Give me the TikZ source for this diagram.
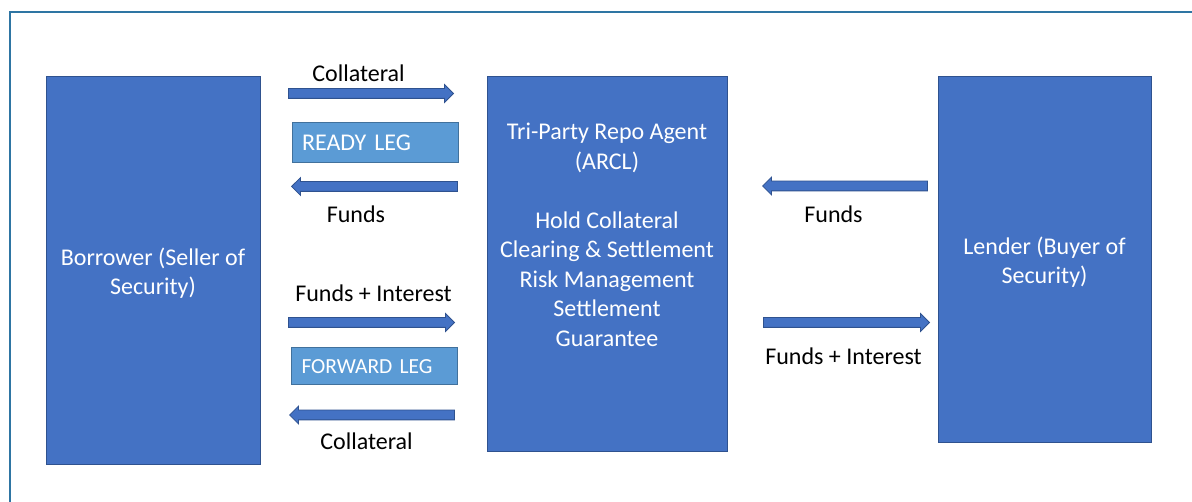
\documentclass[tikz,border=0pt]{standalone}
\usepackage{fontspec}
\setmainfont{Carlito}
\usetikzlibrary{shapes.arrows}

\definecolor{boxfill}{HTML}{4472C4}
\definecolor{boxline}{HTML}{2F528F}
\definecolor{legfill}{HTML}{5B9BD5}
\definecolor{legline}{HTML}{41719C}
\definecolor{framecol}{HTML}{2E75A3}

\begin{document}
\begin{tikzpicture}[x=1pt,y=-1pt,
  bigtext/.style={font=\fontsize{24}{29.5}\selectfont},
  party/.style={rectangle, draw=boxline, fill=boxfill, line width=1pt,
    text=white, align=center, inner sep=0pt, text depth=0pt, bigtext},
  leg/.style={rectangle, draw=legline, fill=legfill, line width=1pt,
    text=white, inner xsep=10pt, inner ysep=0pt, text width=146pt,
    align=left},
  flow/.style={single arrow, draw=boxline, fill=boxfill, line width=0.8pt,
    inner xsep=0pt, inner ysep=4.5pt, minimum width=17pt,
    single arrow head extend=4pt, single arrow tip angle=90,
    single arrow head indent=0pt, anchor=tip},
  back/.style={flow, shape border rotate=180},
  caption/.style={anchor=base, inner sep=0pt, text=black, bigtext}
]
\useasboundingbox (0,0) rectangle (1192,502);
\clip (0,0) rectangle (1192,502);
\fill[white] (0,0) rectangle (1192,502);

% outer frame
\draw[framecol, line width=2pt] (10,12) rectangle (1240,560);

% the three parties
\node[party, minimum width=214pt, minimum height=388pt] (borrower) at (153,271)
  {Borrower (Seller of\\Security)};
\node[party, minimum width=240pt, minimum height=375pt] (agent) at (607,264.5) {};
\node[anchor=north, inner sep=0pt, text=white, align=center, bigtext] (agenttext)
  at (607,123) {Tri-Party Repo Agent\\(ARCL)\\[29.5pt]Hold Collateral\\Clearing \& Settlement\\Risk Management\\Settlement\\Guarantee};
\node[party, minimum width=213pt, minimum height=366pt] (lender) at (1044.5,260)
  {Lender (Buyer of\\Security)};

% ready leg (arrows placed by their tips)
\node[flow, minimum height=165pt] (coll1) at (454,93.5) {};
\node[caption] (coll1lbl) at (358.5,82) {Collateral};
\node[leg, minimum height=40pt, font=\fontsize{24}{29.5}\selectfont] (ready) at (375,143) {READY LEG};
\node[back, minimum height=166pt] (funds1) at (291,186.5) {};
\node[caption] (funds1lbl) at (356,222.7) {Funds};

% forward leg
\node[caption] (fi1lbl) at (373.5,302) {Funds + Interest};
\node[flow, minimum height=166pt] (fi1) at (455,322.5) {};
\node[leg, minimum height=37pt, font=\fontsize{21.5}{26}\selectfont] (forward) at (374.5,366.5) {FORWARD LEG};
\node[back, minimum height=165pt] (coll2) at (289,415) {};
\node[caption] (coll2lbl) at (366.5,450) {Collateral};

% lender side
\node[back, minimum height=165pt] (funds2) at (762,186) {};
\node[caption] (funds2lbl) at (833.5,223) {Funds};
\node[flow, minimum height=166pt] (fi2) at (930,322.5) {};
\node[caption] (fi2lbl) at (843.5,365) {Funds + Interest};
\end{tikzpicture}
\end{document}
